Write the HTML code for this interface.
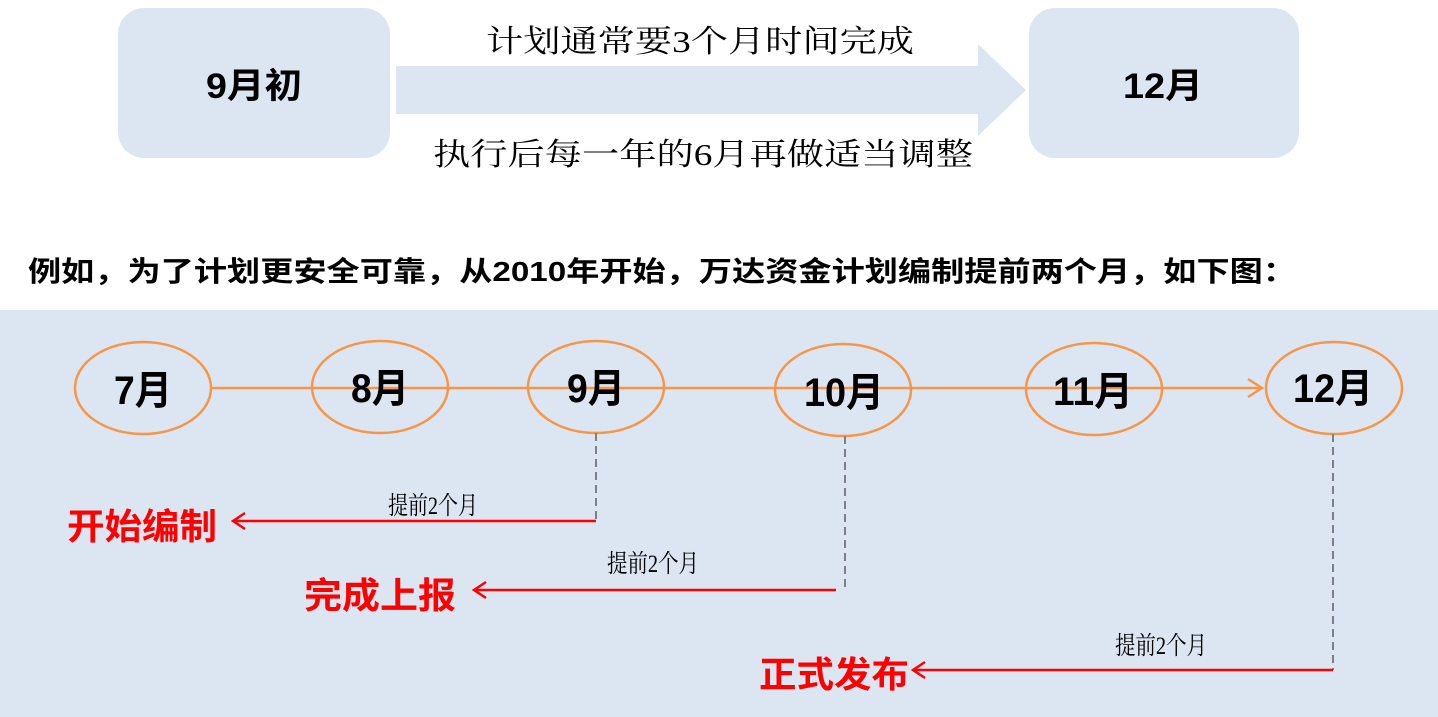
<!DOCTYPE html>
<html><head><meta charset="utf-8"><style>
html,body{margin:0;padding:0;background:#fff;width:1438px;height:717px;overflow:hidden}
svg{display:block}
.b{font-family:"Liberation Sans","Noto Sans CJK SC",sans-serif;font-weight:bold}
.s{font-family:"Liberation Serif","Noto Serif CJK SC",serif}
</style></head><body>
<svg width="1438" height="717" viewBox="0 0 1438 717" xmlns="http://www.w3.org/2000/svg">
<rect x="118" y="8" width="272" height="150" rx="26" fill="#dce6f2"/>
<rect x="1029" y="8" width="270" height="150" rx="26" fill="#dce6f2"/>
<polygon points="396,66 978,66 978,44 1026,90 978,136 978,114 396,114" fill="#dce6f2"/>
<text x="254" y="98" text-anchor="middle" class="b" font-size="35" textLength="96" lengthAdjust="spacingAndGlyphs">9月初</text>
<text x="1163" y="98" text-anchor="middle" class="b" font-size="35" textLength="80" lengthAdjust="spacingAndGlyphs">12月</text>
<text x="700" y="52" text-anchor="middle" class="s" font-size="31" textLength="428" lengthAdjust="spacingAndGlyphs">计划通常要3个月时间完成</text>
<text x="703" y="165" text-anchor="middle" class="s" font-size="31" textLength="540" lengthAdjust="spacingAndGlyphs">执行后每一年的6月再做适当调整</text>
<text x="28" y="281" class="b" font-size="28" textLength="1268" lengthAdjust="spacingAndGlyphs">例如，为了计划更安全可靠，从2010年开始，万达资金计划编制提前两个月，如下图：</text>
<rect x="0" y="310" width="1438" height="407" fill="#dce6f2"/>
<line x1="211" y1="388" x2="1262" y2="388" stroke="#f79646" stroke-width="2.5"/>
<polyline points="1248,379 1262,388 1248,397" fill="none" stroke="#f79646" stroke-width="2.5"/>
<g fill="none" stroke="#f79646" stroke-width="2.5">
<ellipse cx="143" cy="388" rx="68" ry="46"/>
<ellipse cx="380" cy="387" rx="68" ry="46"/>
<ellipse cx="596" cy="387" rx="68" ry="46"/>
<ellipse cx="843" cy="390" rx="68" ry="46"/>
<ellipse cx="1094" cy="389" rx="68" ry="46"/>
<ellipse cx="1334" cy="388" rx="68" ry="46"/>
</g>
<g class="b" font-size="40" text-anchor="middle">
<text x="143" y="404" textLength="58" lengthAdjust="spacingAndGlyphs">7月</text>
<text x="380" y="402" textLength="58" lengthAdjust="spacingAndGlyphs">8月</text>
<text x="596" y="402" textLength="58" lengthAdjust="spacingAndGlyphs">9月</text>
<text x="844" y="406" textLength="80" lengthAdjust="spacingAndGlyphs">10月</text>
<text x="1093" y="405" textLength="80" lengthAdjust="spacingAndGlyphs">11月</text>
<text x="1333" y="402" textLength="80" lengthAdjust="spacingAndGlyphs">12月</text>
</g>
<g stroke="#7f7f7f" stroke-width="2" stroke-dasharray="8,5">
<line x1="596" y1="433" x2="596" y2="521"/>
<line x1="845" y1="436" x2="845" y2="590"/>
<line x1="1333" y1="434" x2="1333" y2="670"/>
</g>
<g stroke="#ff0000" stroke-width="2.5" fill="none">
<line x1="596" y1="521" x2="233" y2="521"/>
<polyline points="245,513 233,521 245,529"/>
<line x1="836" y1="590" x2="474" y2="590"/>
<polyline points="486,582 474,590 486,598"/>
<line x1="1333" y1="670" x2="913" y2="670"/>
<polyline points="925,662 913,670 925,678"/>
</g>
<g class="s" font-size="25" text-anchor="middle" fill="#000">
<text x="433" y="514" textLength="90" lengthAdjust="spacingAndGlyphs">提前2个月</text>
<text x="653" y="572" textLength="92" lengthAdjust="spacingAndGlyphs">提前2个月</text>
<text x="1161" y="654" textLength="92" lengthAdjust="spacingAndGlyphs">提前2个月</text>
</g>
<g class="b" font-size="36" fill="#ff0000">
<text x="67" y="539" textLength="150" lengthAdjust="spacingAndGlyphs">开始编制</text>
<text x="304" y="608" textLength="152" lengthAdjust="spacingAndGlyphs">完成上报</text>
<text x="759" y="687" textLength="150" lengthAdjust="spacingAndGlyphs">正式发布</text>
</g>
</svg>
</body></html>
